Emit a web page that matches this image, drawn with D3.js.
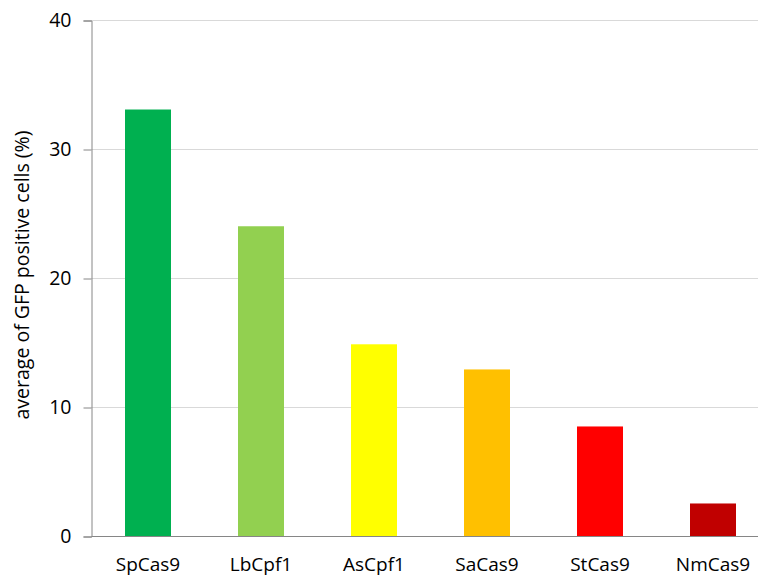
<!DOCTYPE html>
<html>
<head>
<meta charset="utf-8">
<script src="https://cdn.jsdelivr.net/npm/d3@7"></script>
<style>
  body { margin: 0; background: #fff; }
  svg { display: block; }
  text { font-family: "Open Sans", "Liberation Sans", sans-serif; fill: #000; }
</style>
</head>
<body>
<svg id="chart" width="758" height="576"></svg>
<script>
const categories = ["SpCas9", "LbCpf1", "AsCpf1", "SaCas9", "StCas9", "NmCas9"];
const values = [33.1, 24.05, 14.9, 12.95, 8.53, 2.56];
const colors = ["#00B050", "#92D050", "#FFFF00", "#FFC000", "#FF0000", "#C00000"];
const yTicks = [0, 10, 20, 30, 40];
const yLabel = "average of GFP positive cells (%)";

const svg = d3.select("#chart");
const mLeft = 91.5, mRight = 769.5, mTop = 20.5, mBottom = 536.5;

const x = d3.scaleBand().domain(categories).range([mLeft, mRight])
  .paddingInner(0.593).paddingOuter(0.2965);
const y = d3.scaleLinear().domain([0, 40]).range([mBottom, mTop]);

// gridlines
svg.append("g").selectAll("line").data(yTicks.filter(d => d > 0)).join("line")
  .attr("x1", mLeft).attr("x2", 758)
  .attr("y1", d => y(d)).attr("y2", d => y(d))
  .attr("stroke", "#d9d9d9").attr("stroke-width", 1);

// bars
svg.append("g").selectAll("rect").data(categories).join("rect")
  .attr("x", d => x(d))
  .attr("width", x.bandwidth())
  .attr("y", (d, i) => y(values[i]))
  .attr("height", (d, i) => y(0) - y(values[i]))
  .attr("fill", (d, i) => colors[i]);

// y axis
const yAxis = svg.append("g").attr("transform", `translate(${mLeft},0)`)
  .call(d3.axisLeft(y).tickValues(yTicks).tickSize(8).tickPadding(12).tickFormat(d3.format("d")));
yAxis.select(".domain").attr("stroke", "#868686");
yAxis.selectAll(".tick line").attr("stroke", "#868686");
yAxis.selectAll(".tick text").attr("font-size", 19.5).attr("font-family", "Open Sans, sans-serif").attr("fill", "#000");

// x axis
const xAxis = svg.append("g").attr("transform", `translate(0,${mBottom})`)
  .call(d3.axisBottom(x).tickSize(0).tickPadding(21));
xAxis.select(".domain").attr("stroke", "#868686").attr("d", `M${mLeft},0H758`);
xAxis.selectAll(".tick text").attr("font-size", 19).attr("font-family", "Open Sans, sans-serif").attr("fill", "#000")
  .attr("dy", "0.71em");

// y label
svg.append("text")
  .attr("transform", `translate(29,275) rotate(-90)`)
  .attr("text-anchor", "middle")
  .attr("font-size", 19.5)
  .text(yLabel);
</script>
</body>
</html>
